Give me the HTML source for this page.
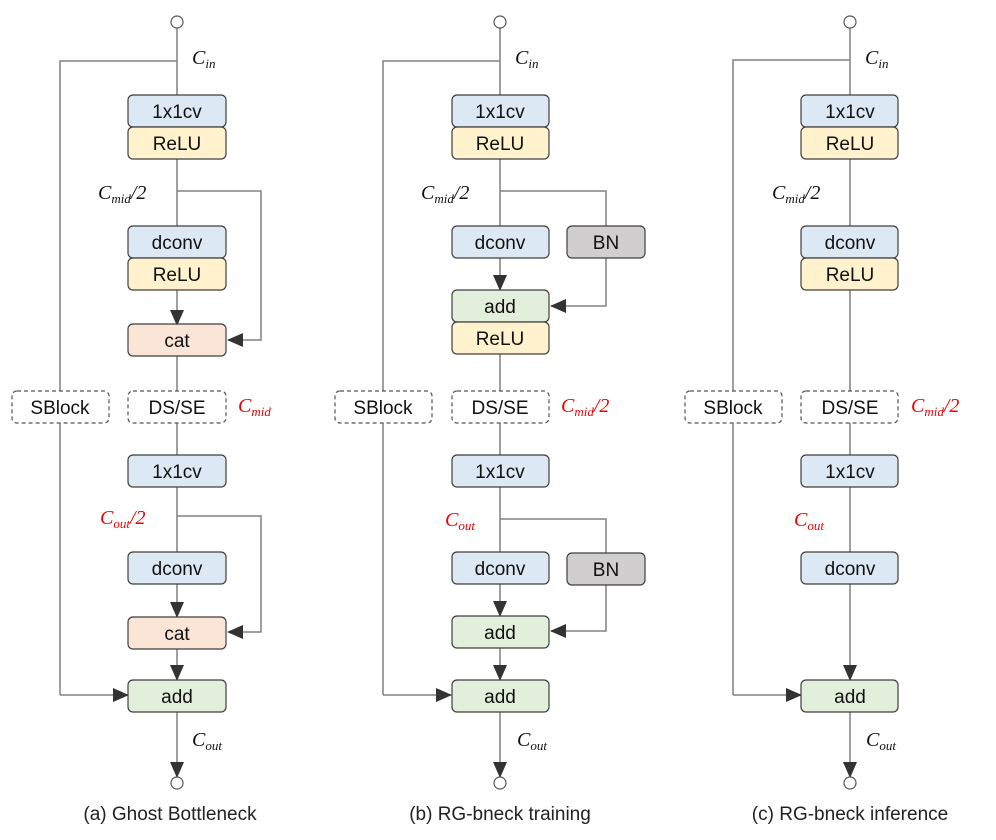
<!DOCTYPE html>
<html><head><meta charset="utf-8"><style>
html,body{margin:0;padding:0;background:#fff;}
svg{display:block;}
.b{stroke:#3f3f3f;stroke-width:1.2;}
.l{stroke:#808080;stroke-width:1.5;fill:none;}
.t{font-family:"Liberation Sans",sans-serif;font-size:19px;fill:#111;text-anchor:middle;}
.m{font-family:"Liberation Serif",serif;font-style:italic;font-size:20px;fill:#111;}
.s{font-size:13px;}
.r{fill:#e00;}
.cap{font-family:"Liberation Sans",sans-serif;font-size:19px;fill:#222;text-anchor:middle;}
.d{fill:#fff;stroke:#555;stroke-width:1.2;stroke-dasharray:4 3;}
</style></head><body>
<svg width="996" height="840" viewBox="0 0 996 840" xmlns="http://www.w3.org/2000/svg">
<defs><marker id="a" markerWidth="10" markerHeight="10" refX="9" refY="5" orient="auto" markerUnits="userSpaceOnUse"><path d="M0,0L10,5L0,10z" fill="#333"/></marker>
<marker id="a2" markerWidth="16" markerHeight="14" refX="15" refY="7" orient="auto" markerUnits="userSpaceOnUse"><path d="M0,0L16,7L0,14z" fill="#333"/></marker></defs>

<!-- ===== Panel A ===== -->
<line class="l" x1="177" y1="28" x2="177" y2="95"/>
<polyline class="l" points="177,61 60,61 60,391"/>
<line class="l" x1="60" y1="422" x2="60" y2="695"/>
<line class="l" x1="60" y1="695" x2="128" y2="695" marker-end="url(#a2)"/>
<line class="l" x1="177" y1="159" x2="177" y2="226"/>
<polyline class="l" points="177,191 261,191 261,340 228,340" marker-end="url(#a2)"/>
<line class="l" x1="177" y1="290" x2="177" y2="325" marker-end="url(#a2)"/>
<line class="l" x1="177" y1="356" x2="177" y2="391"/>
<line class="l" x1="177" y1="422" x2="177" y2="455"/>
<line class="l" x1="177" y1="486" x2="177" y2="552"/>
<polyline class="l" points="177,516 261,516 261,632 228,632" marker-end="url(#a2)"/>
<line class="l" x1="177" y1="583" x2="177" y2="617" marker-end="url(#a2)"/>
<line class="l" x1="177" y1="648" x2="177" y2="680" marker-end="url(#a2)"/>
<line class="l" x1="177" y1="711" x2="177" y2="777" marker-end="url(#a2)"/>
<circle cx="177" cy="22" r="6" fill="#fff" stroke="#555" stroke-width="1.2"/>
<circle cx="177" cy="783" r="6" fill="#fff" stroke="#555" stroke-width="1.2"/>
<rect class="b" x="128" y="95" width="98" height="32" rx="5" fill="#dce9f5"/><text class="t" x="177" y="118">1x1cv</text>
<rect class="b" x="128" y="127" width="98" height="32" rx="5" fill="#fff2cc"/><text class="t" x="177" y="150">ReLU</text>
<rect class="b" x="128" y="226" width="98" height="32" rx="5" fill="#dce9f5"/><text class="t" x="177" y="249">dconv</text>
<rect class="b" x="128" y="258" width="98" height="32" rx="5" fill="#fff2cc"/><text class="t" x="177" y="281">ReLU</text>
<rect class="b" x="128" y="324" width="98" height="32" rx="5" fill="#fbe5d6"/><text class="t" x="177" y="347">cat</text>
<rect class="d" x="12" y="391" width="97" height="32" rx="5"/><text class="t" x="60" y="414">SBlock</text>
<rect class="d" x="128" y="391" width="98" height="32" rx="5"/><text class="t" x="177" y="414">DS/SE</text>
<rect class="b" x="128" y="455" width="98" height="32" rx="5" fill="#dce9f5"/><text class="t" x="177" y="478">1x1cv</text>
<rect class="b" x="128" y="552" width="98" height="32" rx="5" fill="#dce9f5"/><text class="t" x="177" y="575">dconv</text>
<rect class="b" x="128" y="617" width="98" height="32" rx="5" fill="#fbe5d6"/><text class="t" x="177" y="640">cat</text>
<rect class="b" x="128" y="680" width="98" height="32" rx="5" fill="#e2efda"/><text class="t" x="177" y="703">add</text>
<text class="m" x="192" y="64">C<tspan class="s" dy="4">in</tspan></text>
<text class="m" x="98" y="199">C<tspan class="s" dy="4">mid</tspan><tspan dy="-4">/2</tspan></text>
<text class="m r" x="238" y="412">C<tspan class="s" dy="4">mid</tspan></text>
<text class="m r" x="100" y="524">C<tspan class="s" dy="4">out</tspan><tspan dy="-4">/2</tspan></text>
<text class="m" x="192" y="746">C<tspan class="s" dy="4">out</tspan></text>
<text class="cap" x="170" y="820">(a) Ghost Bottleneck</text>

<!-- ===== Panel B ===== -->
<line class="l" x1="500" y1="28" x2="500" y2="95"/>
<polyline class="l" points="500,61 383,61 383,391"/>
<line class="l" x1="383" y1="422" x2="383" y2="695"/>
<line class="l" x1="383" y1="695" x2="451" y2="695" marker-end="url(#a2)"/>
<line class="l" x1="500" y1="159" x2="500" y2="226"/>
<polyline class="l" points="500,191 606,191 606,226"/>
<polyline class="l" points="606,258 606,306 551,306" marker-end="url(#a2)"/>
<line class="l" x1="500" y1="258" x2="500" y2="290" marker-end="url(#a2)"/>
<line class="l" x1="500" y1="354" x2="500" y2="391"/>
<line class="l" x1="500" y1="422" x2="500" y2="455"/>
<line class="l" x1="500" y1="486" x2="500" y2="552"/>
<polyline class="l" points="500,519 606,519 606,553"/>
<polyline class="l" points="606,585 606,631 551,631" marker-end="url(#a2)"/>
<line class="l" x1="500" y1="583" x2="500" y2="616" marker-end="url(#a2)"/>
<line class="l" x1="500" y1="648" x2="500" y2="680" marker-end="url(#a2)"/>
<line class="l" x1="500" y1="711" x2="500" y2="777" marker-end="url(#a2)"/>
<circle cx="500" cy="22" r="6" fill="#fff" stroke="#555" stroke-width="1.2"/>
<circle cx="500" cy="783" r="6" fill="#fff" stroke="#555" stroke-width="1.2"/>
<rect class="b" x="452" y="95" width="97" height="32" rx="5" fill="#dce9f5"/><text class="t" x="500" y="118">1x1cv</text>
<rect class="b" x="452" y="127" width="97" height="32" rx="5" fill="#fff2cc"/><text class="t" x="500" y="150">ReLU</text>
<rect class="b" x="452" y="226" width="97" height="32" rx="5" fill="#dce9f5"/><text class="t" x="500" y="249">dconv</text>
<rect class="b" x="567" y="226" width="78" height="32" rx="5" fill="#d0cece"/><text class="t" x="606" y="249">BN</text>
<rect class="b" x="452" y="290" width="97" height="32" rx="5" fill="#e2efda"/><text class="t" x="500" y="313">add</text>
<rect class="b" x="452" y="322" width="97" height="32" rx="5" fill="#fff2cc"/><text class="t" x="500" y="345">ReLU</text>
<rect class="d" x="335" y="391" width="97" height="32" rx="5"/><text class="t" x="383" y="414">SBlock</text>
<rect class="d" x="452" y="391" width="97" height="32" rx="5"/><text class="t" x="500" y="414">DS/SE</text>
<rect class="b" x="452" y="455" width="97" height="32" rx="5" fill="#dce9f5"/><text class="t" x="500" y="478">1x1cv</text>
<rect class="b" x="452" y="552" width="97" height="32" rx="5" fill="#dce9f5"/><text class="t" x="500" y="575">dconv</text>
<rect class="b" x="567" y="553" width="78" height="32" rx="5" fill="#d0cece"/><text class="t" x="606" y="576">BN</text>
<rect class="b" x="452" y="616" width="97" height="32" rx="5" fill="#e2efda"/><text class="t" x="500" y="639">add</text>
<rect class="b" x="452" y="680" width="97" height="32" rx="5" fill="#e2efda"/><text class="t" x="500" y="703">add</text>
<text class="m" x="515" y="64">C<tspan class="s" dy="4">in</tspan></text>
<text class="m" x="421" y="199">C<tspan class="s" dy="4">mid</tspan><tspan dy="-4">/2</tspan></text>
<text class="m r" x="561" y="412">C<tspan class="s" dy="4">mid</tspan><tspan dy="-4">/2</tspan></text>
<text class="m r" x="445" y="526">C<tspan class="s" dy="4">out</tspan></text>
<text class="m" x="517" y="746">C<tspan class="s" dy="4">out</tspan></text>
<text class="cap" x="500" y="820">(b) RG-bneck training</text>

<!-- ===== Panel C ===== -->
<line class="l" x1="850" y1="28" x2="850" y2="95"/>
<polyline class="l" points="850,60 733,60 733,391"/>
<line class="l" x1="733" y1="422" x2="733" y2="695"/>
<line class="l" x1="733" y1="695" x2="801" y2="695" marker-end="url(#a2)"/>
<line class="l" x1="850" y1="159" x2="850" y2="226"/>
<line class="l" x1="850" y1="290" x2="850" y2="391"/>
<line class="l" x1="850" y1="422" x2="850" y2="455"/>
<line class="l" x1="850" y1="486" x2="850" y2="552"/>
<line class="l" x1="850" y1="583" x2="850" y2="680" marker-end="url(#a2)"/>
<line class="l" x1="850" y1="711" x2="850" y2="777" marker-end="url(#a2)"/>
<circle cx="850" cy="22" r="6" fill="#fff" stroke="#555" stroke-width="1.2"/>
<circle cx="850" cy="783" r="6" fill="#fff" stroke="#555" stroke-width="1.2"/>
<rect class="b" x="801" y="95" width="97" height="32" rx="5" fill="#dce9f5"/><text class="t" x="850" y="118">1x1cv</text>
<rect class="b" x="801" y="127" width="97" height="32" rx="5" fill="#fff2cc"/><text class="t" x="850" y="150">ReLU</text>
<rect class="b" x="801" y="226" width="97" height="32" rx="5" fill="#dce9f5"/><text class="t" x="850" y="249">dconv</text>
<rect class="b" x="801" y="258" width="97" height="32" rx="5" fill="#fff2cc"/><text class="t" x="850" y="281">ReLU</text>
<rect class="d" x="685" y="391" width="97" height="32" rx="5"/><text class="t" x="733" y="414">SBlock</text>
<rect class="d" x="801" y="391" width="97" height="32" rx="5"/><text class="t" x="850" y="414">DS/SE</text>
<rect class="b" x="801" y="455" width="97" height="32" rx="5" fill="#dce9f5"/><text class="t" x="850" y="478">1x1cv</text>
<rect class="b" x="801" y="552" width="97" height="32" rx="5" fill="#dce9f5"/><text class="t" x="850" y="575">dconv</text>
<rect class="b" x="801" y="680" width="97" height="32" rx="5" fill="#e2efda"/><text class="t" x="850" y="703">add</text>
<text class="m" x="865" y="64">C<tspan class="s" dy="4">in</tspan></text>
<text class="m" x="772" y="199">C<tspan class="s" dy="4">mid</tspan><tspan dy="-4">/2</tspan></text>
<text class="m r" x="911" y="412">C<tspan class="s" dy="4">mid</tspan><tspan dy="-4">/2</tspan></text>
<text class="m r" x="794" y="526">C<tspan class="s" dy="4">out</tspan></text>
<text class="m" x="866" y="746">C<tspan class="s" dy="4">out</tspan></text>
<text class="cap" x="850" y="820">(c) RG-bneck inference</text>
</svg>
</body></html>
